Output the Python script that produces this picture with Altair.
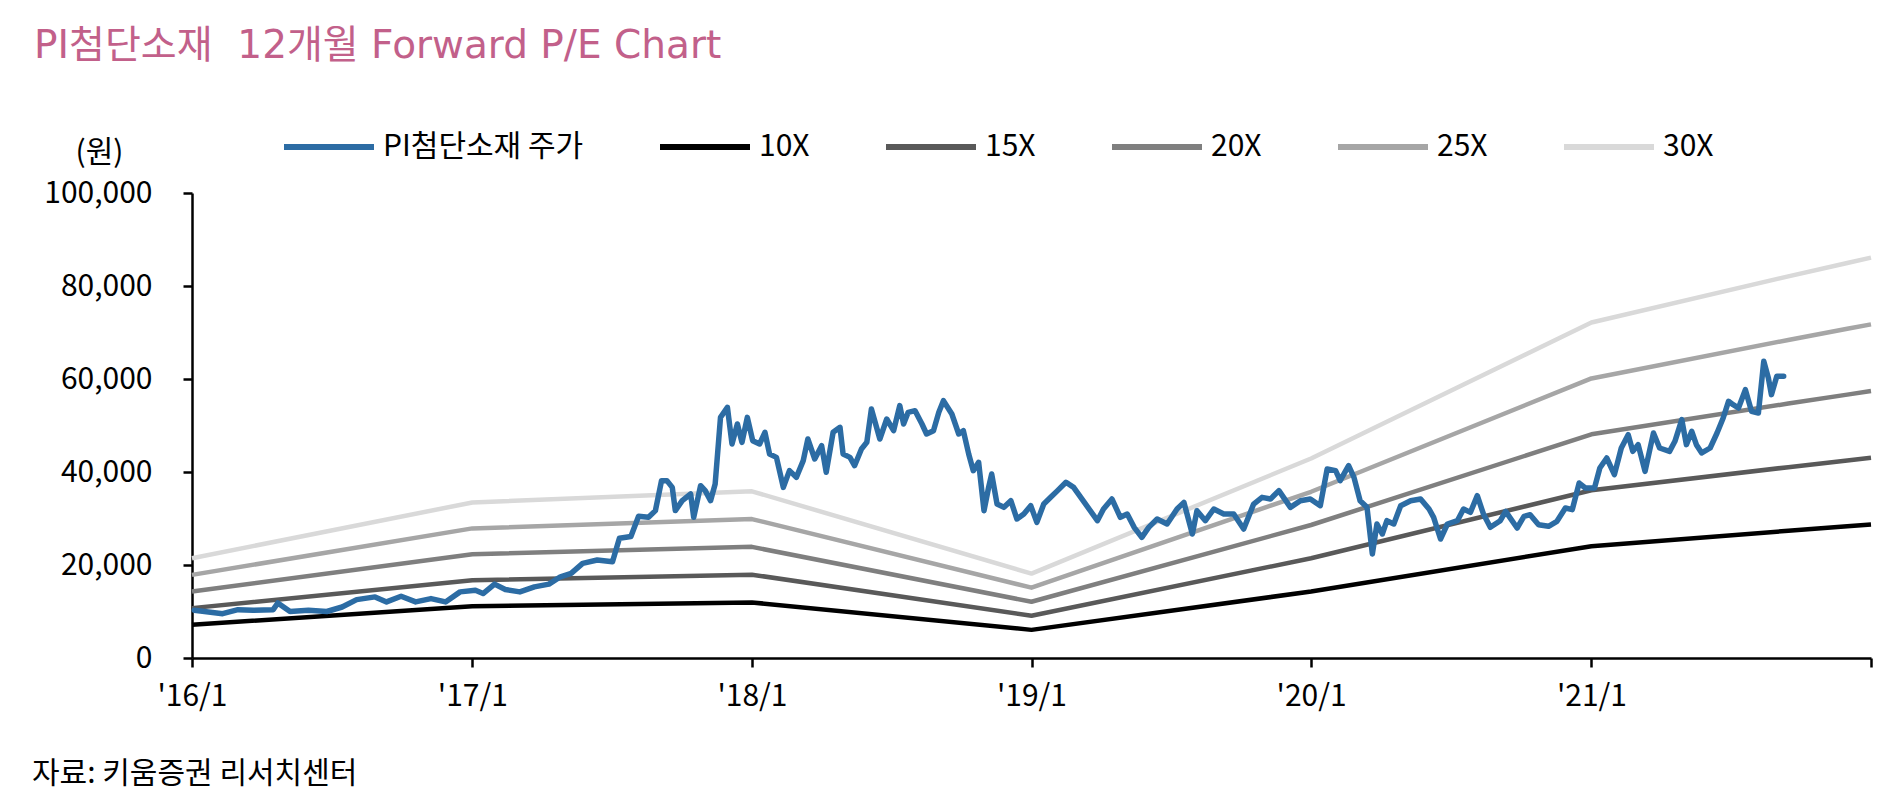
import altair as alt
import pandas as pd

title_text = "PI첨단소재\u00a0 12개월 Forward P/E Chart"
source_text = "자료: 키움증권 리서치센터"
price_name = "PI첨단소재 주가"
y_unit = "(원)"

price_dates = [
    "2016-01-04", "2016-02-10", "2016-03-01", "2016-03-21", "2016-04-16", "2016-04-22",
    "2016-05-08", "2016-06-01", "2016-06-25", "2016-07-15", "2016-08-03", "2016-08-27",
    "2016-09-11", "2016-09-30", "2016-10-19", "2016-11-08", "2016-11-27", "2016-12-16",
    "2017-01-05", "2017-01-15", "2017-01-30", "2017-02-13", "2017-03-04", "2017-03-23",
    "2017-04-11", "2017-04-26", "2017-05-10", "2017-05-25", "2017-06-13", "2017-07-03",
    "2017-07-12", "2017-07-27", "2017-08-06",
    "2017-08-19", "2017-08-28", "2017-09-05", "2017-09-12", "2017-09-19", "2017-09-23",
    "2017-10-02", "2017-10-13", "2017-10-17", "2017-10-26", "2017-11-01", "2017-11-08",
    "2017-11-14", "2017-11-21", "2017-11-30", "2017-12-06", "2017-12-13", "2017-12-19",
    "2017-12-26", "2018-01-02", "2018-01-11", "2018-01-18", "2018-01-24", "2018-02-02",
    "2018-02-11", "2018-02-19", "2018-02-28", "2018-03-09", "2018-03-15", "2018-03-24",
    "2018-04-02", "2018-04-08", "2018-04-17", "2018-04-26", "2018-04-30", "2018-05-09",
    "2018-05-15", "2018-05-24", "2018-05-31", "2018-06-06", "2018-06-17", "2018-06-26",
    "2018-07-05", "2018-07-13", "2018-07-18", "2018-07-24", "2018-08-02", "2018-08-11",
    "2018-08-17", "2018-08-26", "2018-09-02", "2018-09-08", "2018-09-19", "2018-09-28",
    "2018-10-04", "2018-10-11", "2018-10-17", "2018-10-24", "2018-10-31", "2018-11-06",
    "2018-11-10", "2018-11-17", "2018-11-26", "2018-12-05", "2018-12-13", "2018-12-22",
    "2018-12-31", "2019-01-08", "2019-01-17", "2019-01-26", "2019-02-04", "2019-02-15",
    "2019-02-25", "2019-03-11",
    "2019-03-28", "2019-04-05", "2019-04-16", "2019-04-27", "2019-05-06", "2019-05-15",
    "2019-05-25", "2019-06-03", "2019-06-14", "2019-06-27", "2019-07-10", "2019-07-19",
    "2019-07-30", "2019-08-05", "2019-08-16", "2019-08-27", "2019-09-09", "2019-09-22",
    "2019-10-05", "2019-10-18", "2019-10-29", "2019-11-09", "2019-11-20", "2019-12-05",
    "2019-12-18", "2019-12-31", "2020-01-13", "2020-01-22", "2020-02-02", "2020-02-08",
    "2020-02-19", "2020-02-26", "2020-03-05", "2020-03-14", "2020-03-21", "2020-03-27",
    "2020-04-03", "2020-04-09", "2020-04-18", "2020-04-27", "2020-05-10", "2020-05-23",
    "2020-06-03", "2020-06-09", "2020-06-18", "2020-06-27", "2020-07-10", "2020-07-18",
    "2020-07-27", "2020-08-05", "2020-08-13", "2020-08-22", "2020-09-04",
    "2020-09-11", "2020-09-26", "2020-10-05", "2020-10-13", "2020-10-24", "2020-11-06",
    "2020-11-17", "2020-11-28", "2020-12-07", "2020-12-16", "2020-12-24", "2021-01-05",
    "2021-01-12", "2021-01-21", "2021-01-31", "2021-02-09", "2021-02-18", "2021-02-24",
    "2021-03-03", "2021-03-12", "2021-03-23", "2021-03-31", "2021-04-13", "2021-04-20",
    "2021-04-29", "2021-05-05", "2021-05-12", "2021-05-18", "2021-05-25", "2021-06-05",
    "2021-06-14", "2021-06-22", "2021-06-29", "2021-07-05", "2021-07-12", "2021-07-21",
    "2021-07-29", "2021-08-07", "2021-08-14", "2021-08-20", "2021-08-24", "2021-08-31",
    "2021-09-09",
]

price_values = [
    10250, 9530, 10400, 10250, 10400, 11840,
    10000, 10250, 10000, 10970, 12560, 13140,
    12060, 13290, 12060, 12780, 12060, 14220,
    14580, 13860, 15880, 14730, 14220, 15300,
    15880, 17470, 18190, 20360, 21080, 20720,
    25770, 26140, 30470,
    30250, 31700, 38140, 38140, 36700, 31700,
    33830, 35270, 30250, 37060, 35990, 33830,
    37420, 51760, 53910, 46020, 50320, 46380,
    51760, 46740, 46020, 48530, 43870, 43150,
    36700, 40290, 38850, 42440, 47100, 42800,
    45660, 39930, 48530, 49610, 43870, 43150,
    41360, 44950, 46380, 53550, 47100, 51400,
    48890, 54270, 50320, 52830, 53190, 50320,
    48170, 48890, 52830, 55340, 52470, 48170,
    48890, 43870, 40290, 42080, 31680, 36700,
    39570, 33110, 32400, 33830, 29890, 30970,
    32760, 29170, 33110, 34550, 35990, 37780,
    36700, 33470,
    29530, 32040, 34190, 30250, 30970, 28100,
    25950, 28100, 29890, 28820, 32040, 33470,
    26670, 31680, 29530, 32040, 30970, 30970,
    27740, 33110, 34550, 34190, 35990, 32400,
    33830, 34190, 32760, 40650, 40290, 38140,
    41360, 38850, 33830, 32400, 22370, 28820,
    26670, 29530, 28820, 32760, 33830, 34190,
    32040, 30250, 25590, 28820, 29530, 32040,
    31320, 34910, 30970, 28100, 29530,
    31540, 27960, 30470, 30820, 28670, 28320,
    29390, 32260, 31900, 37630, 36560, 36560,
    40860, 43010, 39430, 45160, 48030, 44440,
    45880, 40140, 48390, 45160, 44440, 46600,
    51250, 45880, 48750, 45880, 44090, 45160,
    48390, 51610, 55200, 54480, 53760, 57700,
    53050, 52690, 63800, 60220, 56630, 60570,
    60570,
]

eps_dates = ["2016-01-01", "2017-01-01", "2018-01-01", "2019-01-01", "2020-01-01",
             "2021-01-01", "2021-09-15", "2021-12-01", "2022-01-01"]
eps_values = [715, 1115, 1195, 605, 1430, 2405, 2736, 2832, 2870]
band_multiples = [10, 15, 20, 25, 30]
band_names = ["10X", "15X", "20X", "25X", "30X"]

series_order = [price_name] + band_names
series_colors = ["#2C6CA4", "#000000", "#595959", "#7F7F7F", "#A6A6A6", "#D9D9D9"]

year_ticks = [2016, 2017, 2018, 2019, 2020, 2021, 2022]
y_ticks = [0, 20000, 40000, 60000, 80000, 100000]

FONT = "Noto Sans CJK KR"
TITLE_FONT = "DejaVu Sans, Noto Sans CJK KR"

price_df = pd.DataFrame({"date": price_dates, "value": price_values, "series": price_name})
band_rows = []
for m, name in zip(band_multiples, band_names):
    for d, e in zip(eps_dates, eps_values):
        band_rows.append({"date": d, "value": e * m, "series": name})
band_df = pd.DataFrame(band_rows)

color_scale = alt.Scale(domain=series_order, range=series_colors)

x_enc = alt.X(
    "date:T",
    scale=alt.Scale(domain=[alt.DateTime(year=2016, month=1, date=1, utc=True),
                            alt.DateTime(year=2022, month=1, date=1, utc=True)]),
    axis=alt.Axis(
        title=None,
        values=[alt.DateTime(year=y, month=1, date=1, utc=True) for y in year_ticks],
        labelExpr="utcyear(datum.value) >= 2022 ? '' : \"'\" + utcFormat(datum.value, '%y') + '/1'",
        labelPadding=14,
        labelFlush=False,
        labelOverlap=False,
    ),
)

y_enc = alt.Y(
    "value:Q",
    scale=alt.Scale(domain=[0, 100000], nice=False),
    axis=alt.Axis(
        values=y_ticks,
        format=",.0f",
        title=y_unit,
        titleAngle=0,
        titleX=-93,
        titleY=-41,
        titleAlign="center",
        titleBaseline="middle",
        titleFontSize=30,
        titleFontWeight="normal",
        titleFont=FONT,
        titleColor="#000000",
        labelPadding=31,
    ),
)

legend = alt.Legend(
    title=None,
    orient="none",
    legendX=89,
    legendY=-94,
    direction="horizontal",
    symbolType="stroke",
    symbolSize=8100,
    symbolStrokeWidth=6,
    labelFontSize=30,
    labelFont=FONT,
    labelColor="#000000",
    labelOffset=6,
    labelLimit=500,
    columnPadding=64,
    padding=0,
)

bands = alt.Chart(band_df).mark_line(strokeWidth=4.5, strokeJoin="round").encode(
    x=x_enc,
    y=y_enc,
    color=alt.Color("series:N", scale=color_scale, sort=series_order, legend=legend),
    detail="series:N",
)

price = alt.Chart(price_df).mark_line(strokeWidth=5.5, strokeJoin="round", strokeCap="round").encode(
    x=x_enc,
    y=y_enc,
    color=alt.Color("series:N", scale=color_scale, sort=series_order, legend=legend),
)

title_mark = alt.Chart(pd.DataFrame({"t": [title_text]})).mark_text(
    align="left", baseline="alphabetic", fontSize=39, font=TITLE_FONT, color="#C2608A"
).encode(x=alt.value(-158), y=alt.value(-135), text="t:N")

source_mark = alt.Chart(pd.DataFrame({"t": [source_text]})).mark_text(
    align="left", baseline="alphabetic", fontSize=30, font=FONT, color="#000000"
).encode(x=alt.value(-160), y=alt.value(590), text="t:N")

chart = alt.layer(bands, price, title_mark, source_mark).properties(
    width=1679,
    height=465,
    autosize=alt.AutoSizeParams(type="none"),
    padding={"left": 184, "top": 185, "right": 20, "bottom": 142},
).configure_view(stroke=None).configure_axis(
    grid=False,
    domainColor="#000000",
    domainWidth=2.5,
    tickColor="#000000",
    tickWidth=2.5,
    tickSize=9,
    labelFont=FONT,
    labelFontSize=30,
    labelColor="#000000",
)

chart.save("out.html", embed_options={"renderer": "svg", "actions": False})
